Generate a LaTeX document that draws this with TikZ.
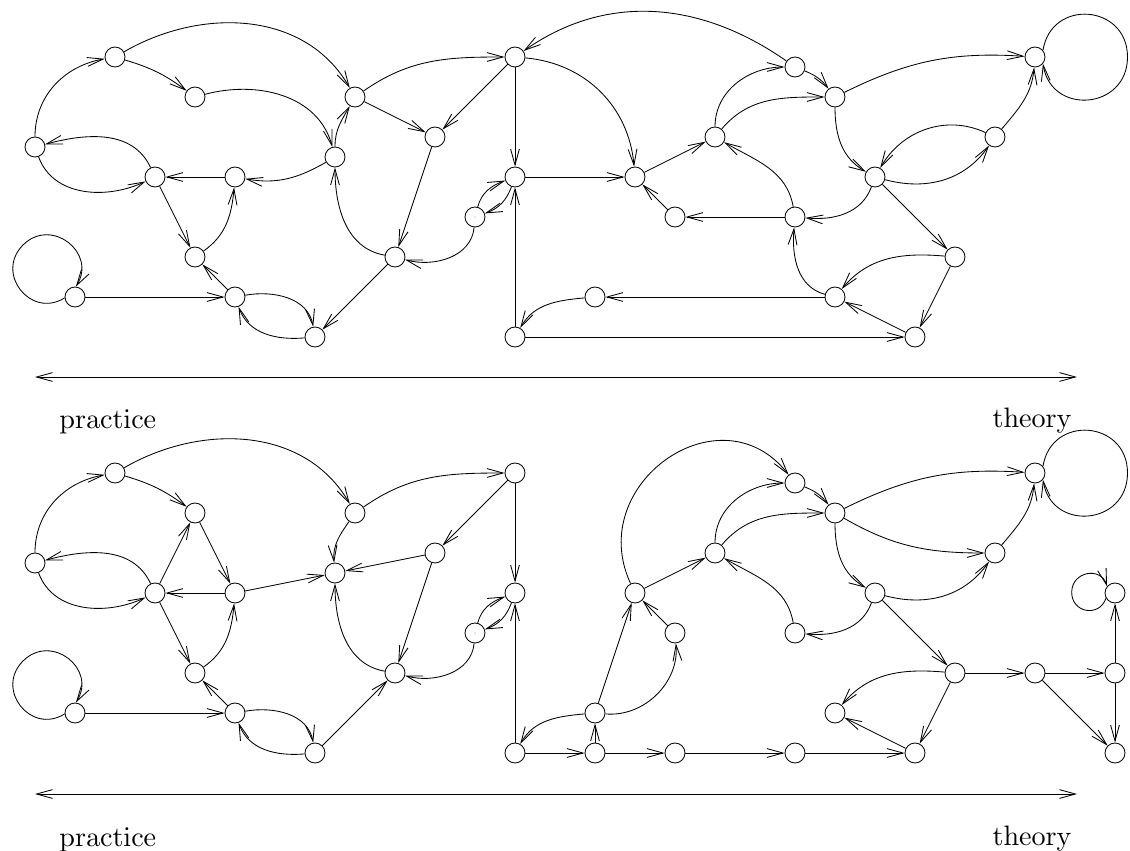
\documentclass[tikz,border=0pt]{standalone}
\usetikzlibrary{arrows.meta}
\font\lblfont=cmr10 at 20pt

\begin{document}
\begin{tikzpicture}[x=0.25mm,y=-0.25mm,line width=0.6pt,
    st/.style={circle,draw,minimum size=5mm,inner sep=0pt},
    dotst/.style={st,path picture={\fill (path picture bounding box.center) circle (0.35pt);}},
    lbl/.style={font=\lblfont,inner sep=0pt},
    >={Straight Barb[length=4mm,width=2.2mm]}]
  \useasboundingbox (0,0) rectangle (1130,850);

  % upper graph
  \foreach \n/\x/\y in {t1/115/57, t2/195/97, t3/35/147, t4/155/177, t5/235/177,
      t6/195/257, t7/75/297, t8/235/297, t9/315/337, t10/355/97, t11/335/157,
      t12/435/137, t13/395/257, t15/515/57, t16/515/177, t17/515/337,
      t18/635/177, t19/675/217, t20/715/137, t21/795/67, t22/835/97,
      t23/795/217, t24/875/177, t25/995/137, t26/1035/57, t27/955/257,
      t28/835/297, t29/595/297, t30/915/337}
    \node[st] (\n) at (\x,\y) {};
  \node[dotst] (t14) at (475,217) {};

  \foreach \a/\b in {t5/t4, t4/t6, t8/t6, t7/t8, t13/t9, t12/t13, t10/t12,
      t15/t12, t15/t16, t17/t16, t16/t18, t18/t20, t19/t18, t23/t19,
      t24/t27, t27/t30, t30/t28, t28/t29, t17/t30}
    \draw[->] (\a) -- (\b);

  \draw[->] (t3) to[out=90,in=190] (t1);
  \draw[->] (t1) to[bend left=10] (t2);
  \draw[->] (t1) to[out=30,in=120] (t10);
  \draw[->] (t2) to[out=15,in=105] (t11);
  \draw[->] (t4) to[out=115,in=15] (t3);
  \draw[->] (t3) to[out=-70,in=-155] (t4);
  \draw[->] (t11) to[out=210,in=-10] (t5);
  \draw[->] (t6) to[out=35,in=-95] (t5);
  \draw[->] (t8) to[out=10,in=100] (t9);
  \draw[->] (t9) to[out=185,in=-70] (t8);
  \draw[->] (t11) to[out=90,in=-120] (t10);
  \draw[->] (t13) to[out=170,in=-90] (t11);
  \draw[->] (t10) to[out=35,in=180] (t15);
  \draw[->] (t14) to[out=75,in=200] (t16);
  \draw[->] (t16) to[out=-110,in=20] (t14);
  \draw[->] (t14) to[out=-95,in=-15] (t13);
  \draw[->] (t21) to[out=145,in=35] (t15);
  \draw[->] (t15) to[out=-5,in=95] (t18);
  \draw[->] (t23) to[out=100,in=-30] (t20);
  \draw[->] (t20) to[out=90,in=180] (t21);
  \draw[->] (t20) to[out=50,in=180] (t22);
  \draw[->] (t21) to[bend left=15] (t22);
  \draw[->] (t22) to[bend left=15] (t26);
  \draw[->] (t22) to[out=-90,in=150] (t24);
  \draw[->] (t25) to[out=155,in=60] (t24);
  \draw[->] (t24) to[out=-15,in=-125] (t25);
  \draw[->] (t25) to[out=50,in=-95] (t26);
  \draw[->] (t24) to[out=-110,in=-5] (t23);
  \draw[->] (t28) to[out=165,in=-95] (t23);
  \draw[->] (t27) to[out=175,in=50] (t28);
  \draw[->] (t29) to[out=185,in=60] (t17);
  % loops
  \coordinate (t7far) at (23,245);
  \coordinate (t26far) at (1127.5,57);
  \draw[->] (t7.185) to[out=212,in=225,distance=10mm] (t7far)
    to[out=45,in=58,distance=10mm] (t7.85);
  \draw[->] (t26.40) to[out=81,in=90,distance=13.2mm] (t26far)
    to[out=-90,in=-81,distance=13.2mm] (t26.-40);

  % scale
  \coordinate (pr1) at (35,377);
  \coordinate (th1) at (1077,377);
  \draw[<->] (pr1) -- (th1);
  \node[lbl,anchor=base west] (practice1) at (59,428) {practice};
  \node[lbl,anchor=base east] (theory1) at (1072,427) {theory};

  % lower graph
  \foreach \n/\x/\y in {b1/115/473, b2/195/513, b3/35/563, b4/155/593, b5/235/593,
      b6/195/673, b7/75/713, b8/235/713, b9/315/753, b10/355/513, b11/335/573,
      b12/435/553, b13/395/673, b15/515/473, b16/515/593, b17/515/753,
      b18/635/593, b19/675/633, b20/715/553, b21/795/483, b22/835/513,
      b23/795/633, b24/875/593, b25/995/553, b26/1035/473, b27/955/673,
      b28/835/713, b29/595/713, b30/915/753, b31/595/753, b32/675/753,
      b33/795/753, b34/1035/673, b35/1115/673, b36/1115/593, b37/1115/753}
    \node[st] (\n) at (\x,\y) {};
  \node[dotst] (b14) at (475,633) {};

  \foreach \a/\b in {b4/b2, b2/b5, b5/b4, b5/b11, b4/b6, b8/b6, b7/b8, b9/b13,
      b12/b11, b12/b13, b15/b12, b15/b16, b17/b16, b17/b31, b31/b29, b31/b32,
      b32/b33, b33/b30, b29/b18, b19/b18, b18/b20, b24/b27, b27/b30, b30/b28,
      b27/b34, b34/b35, b34/b37, b35/b37, b35/b36}
    \draw[->] (\a) -- (\b);

  \draw[->] (b3) to[out=90,in=190] (b1);
  \draw[->] (b1) to[bend left=10] (b2);
  \draw[->] (b1) to[out=30,in=120] (b10);
  \draw[->] (b4) to[out=115,in=15] (b3);
  \draw[->] (b3) to[out=-70,in=-155] (b4);
  \draw[->] (b6) to[out=35,in=-95] (b5);
  \draw[->] (b8) to[out=10,in=100] (b9);
  \draw[->] (b9) to[out=185,in=-70] (b8);
  \draw[->] (b10) to[out=-125,in=95] (b11);
  \draw[->] (b13) to[out=170,in=-90] (b11);
  \draw[->] (b10) to[out=35,in=180] (b15);
  \draw[->] (b14) to[out=75,in=200] (b16);
  \draw[->] (b16) to[out=-110,in=20] (b14);
  \draw[->] (b14) to[out=-95,in=-15] (b13);
  \draw[->] (b29) to[out=185,in=60] (b17);
  \draw[->] (b29) to[out=-5,in=-85] (b19);
  \draw[->] (b18) to[out=115,in=128,distance=27.5mm] (b21);
  \draw[->] (b20) to[out=90,in=180] (b21);
  \draw[->] (b20) to[out=50,in=180] (b22);
  \draw[->] (b21) to[bend left=15] (b22);
  \draw[->] (b23) to[out=100,in=-30] (b20);
  \draw[->] (b24) to[out=-110,in=-5] (b23);
  \draw[->] (b22) to[bend left=15] (b26);
  \draw[->] (b22) to[out=-30,in=180] (b25);
  \draw[->] (b22) to[out=-90,in=150] (b24);
  \draw[->] (b24) to[out=-15,in=-125] (b25);
  \draw[->] (b25) to[out=50,in=-95] (b26);
  \draw[->] (b27) to[out=175,in=50] (b28);
  % loops
  \coordinate (b7far) at (23,661);
  \coordinate (b26far) at (1127.5,473);
  \coordinate (b36far) at (1071.7,592);
  \draw[->] (b7.185) to[out=212,in=225,distance=10mm] (b7far)
    to[out=45,in=58,distance=10mm] (b7.85);
  \draw[->] (b26.40) to[out=81,in=90,distance=13.2mm] (b26far)
    to[out=-90,in=-81,distance=13.2mm] (b26.-40);
  \draw[->] (b36.210) to[out=251,in=-91,distance=5.2mm] (b36far)
    to[out=89,in=107,distance=5.2mm] (b36.140);

  % scale
  \coordinate (pr2) at (35,794);
  \coordinate (th2) at (1077,794);
  \draw[<->] (pr2) -- (th2);
  \node[lbl,anchor=base west] (practice2) at (59,846) {practice};
  \node[lbl,anchor=base east] (theory2) at (1072,845) {theory};
\end{tikzpicture}
\end{document}
